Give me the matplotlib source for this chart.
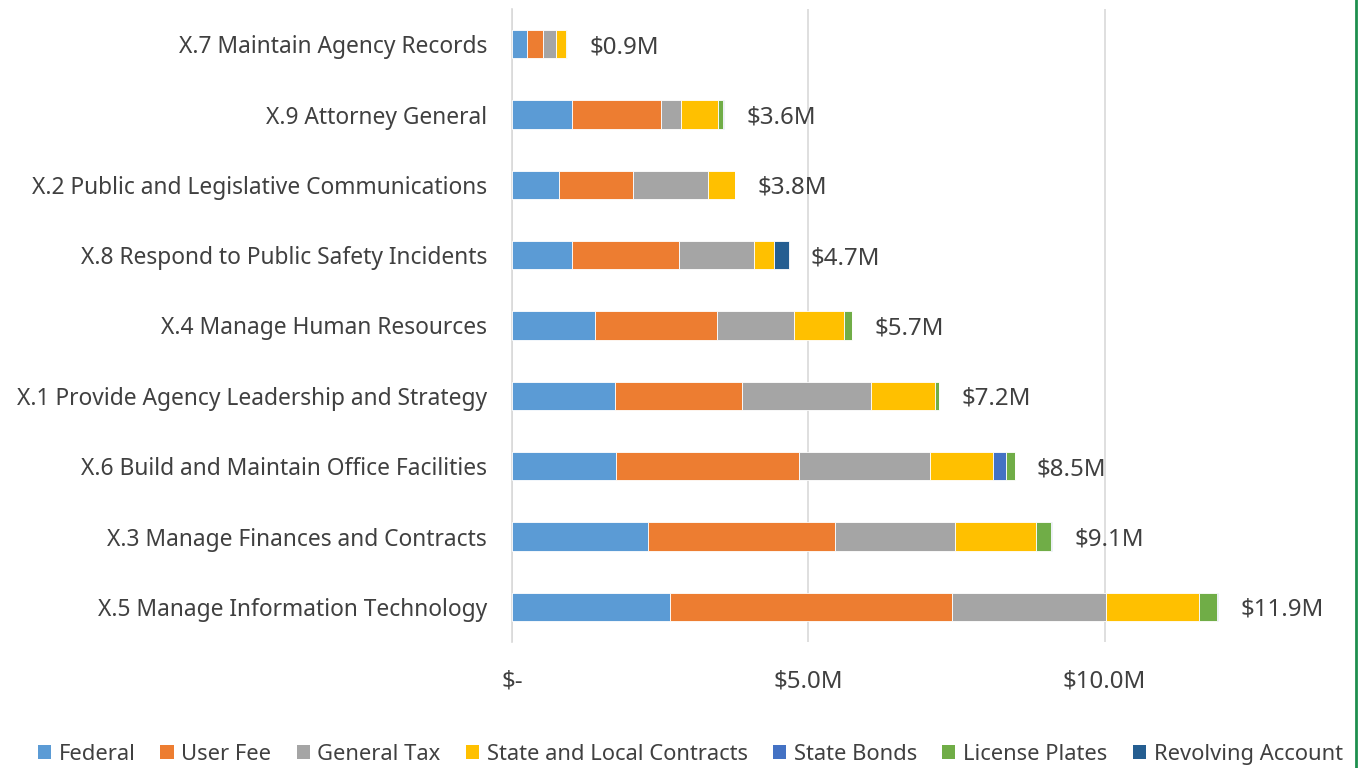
import matplotlib
matplotlib.use("Agg")
import matplotlib.pyplot as plt
from matplotlib.lines import Line2D
from matplotlib.patches import Patch
import numpy as np

plt.rcParams['font.family'] = ['Noto Sans', 'DejaVu Sans']

# categories, listed top to bottom as in the chart
categories = [
    'X.7 Maintain Agency Records',
    'X.9 Attorney General',
    'X.2 Public and Legislative Communications',
    'X.8 Respond to Public Safety Incidents',
    'X.4 Manage Human Resources',
    'X.1 Provide Agency Leadership and Strategy',
    'X.6 Build and Maintain Office Facilities',
    'X.3 Manage Finances and Contracts',
    'X.5 Manage Information Technology',
]

# funding sources, values in $M
federal      = [0.26, 1.02, 0.80, 1.02, 1.40, 1.73, 1.75, 2.30, 2.66]
user_fee     = [0.26, 1.50, 1.25, 1.80, 2.06, 2.15, 3.10, 3.15, 4.77]
general_tax  = [0.23, 0.34, 1.26, 1.27, 1.30, 2.18, 2.20, 2.03, 2.59]
state_local  = [0.16, 0.62, 0.45, 0.33, 0.84, 1.07, 1.07, 1.37, 1.58]
state_bonds  = [0.00, 0.00, 0.00, 0.00, 0.00, 0.00, 0.22, 0.00, 0.00]
license      = [0.02, 0.08, 0.00, 0.00, 0.13, 0.08, 0.14, 0.25, 0.30]
revolving    = [0.00, 0.02, 0.00, 0.25, 0.01, 0.00, 0.00, 0.01, 0.02]

series_names = ['Federal', 'User Fee', 'General Tax', 'State and Local Contracts',
                'State Bonds', 'License Plates', 'Revolving Account']
series = [federal, user_fee, general_tax, state_local, state_bonds, license, revolving]
colors = ['#5B9BD5', '#ED7D31', '#A5A5A5', '#FFC000', '#4472C4', '#70AD47', '#255E91']

xticks = [0, 5, 10]
xticklabels = ['$-', '$5.0M', '$10.0M']

txt = '#404040'
W, H = 1361, 768
fig = plt.figure(figsize=(W / 100, H / 100), dpi=100)
ax = fig.add_axes([512 / W, 1 - 642 / H, 800 / W, 633 / H])

y = np.arange(len(categories))
left = np.zeros(len(categories))
for name, vals, c in zip(series_names, series, colors):
    vals = np.array(vals)
    ax.barh(y, vals, left=left, height=0.4, color=c, edgecolor='white',
            linewidth=0.6, label=name, zorder=3)
    left += vals

# total labels at the end of each bar
for yi, tot in zip(y, left):
    ax.annotate(f'${tot:.1f}M', xy=(tot, yi), xytext=(16, 0), textcoords='offset points',
                va='center_baseline', ha='left', fontsize=17.3, color=txt)

ax.set_xlim(0, 13.5)
ax.set_ylim(-0.5, len(categories) - 0.5)
ax.invert_yaxis()
ax.set_yticks(y)
ax.set_yticklabels(categories, fontsize=16.4, color=txt)
ax.set_xticks(xticks)
ax.set_xticklabels(xticklabels, fontsize=17.3, color=txt)
ax.tick_params(axis='y', length=0, pad=18)
ax.tick_params(axis='x', length=0, pad=20)
ax.grid(axis='x', color='#D9D9D9', linewidth=1.2, zorder=0)
for s in ['top', 'right', 'bottom']:
    ax.spines[s].set_visible(False)
ax.spines['left'].set_color('#D9D9D9')
ax.spines['left'].set_linewidth(1.2)

handles = [Patch(facecolor=c, label=n) for n, c in zip(series_names, colors)]
fig.legend(handles=handles, loc='lower center', bbox_to_anchor=(0.507, -0.022), ncol=7,
           frameon=False, fontsize=15.8, handlelength=0.6, handleheight=0.6,
           handletextpad=0.35, columnspacing=1.15, labelcolor=txt)

# green border on the right
fig.add_artist(Line2D([1356 / W, 1356 / W], [0, 1], transform=fig.transFigure,
                      color='#1E8F4E', linewidth=2))

fig.savefig('out.png', dpi=100, facecolor='white')
